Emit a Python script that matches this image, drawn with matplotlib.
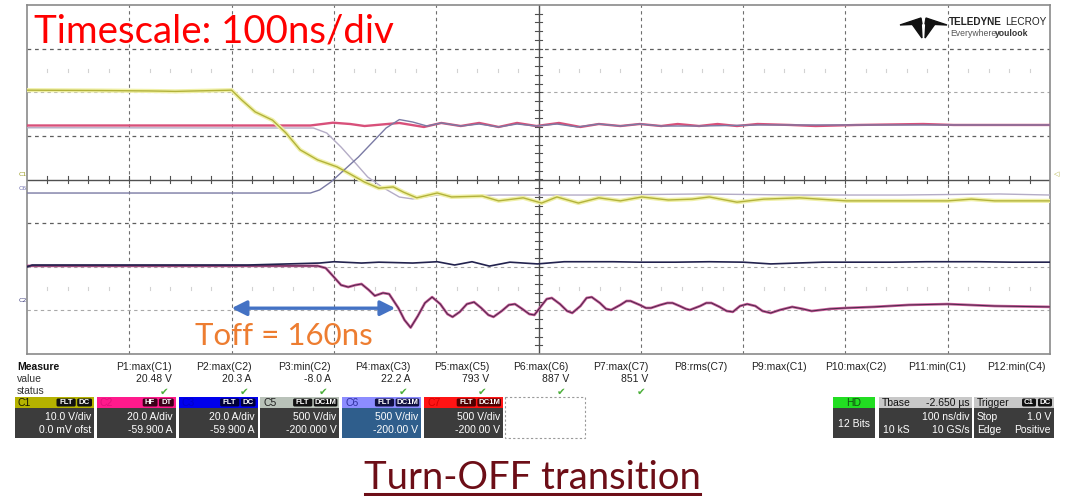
import matplotlib
matplotlib.use("Agg")
import matplotlib.pyplot as plt
from matplotlib.patches import Rectangle, FancyBboxPatch, Polygon
import numpy as np

W, H = 1068, 496

# time axis in ns, 0 = centre of screen, 100 ns/div
c1_t = [-500, -430, -380, -355, -300, -290, -277, -260, -247, -233, -216, -197, -186, -170, -156,
        -142, -132, -119, -99, -85, -55, -39, -15, 3, 18, 39, 59, 80, 101, 127, 150, 167, 194, 220,
        255, 301, 362, 400, 423, 446, 500]
c1_v = [20.48, 20.4, 20.3, 20.2, 20.48, 18.2, 15.5, 13.6, 10.7, 6.8, 4.5, 2.9, 1.5, -0.6, -2.0,
        -1.7, -2.9, -4.2, -3.1, -4.0, -3.8, -4.9, -4.2, -5.4, -4.0, -5.4, -4.2, -4.9, -4.0, -4.7,
        -4.5, -4.0, -5.2, -4.5, -4.2, -4.9, -4.9, -4.9, -4.5, -4.9, -4.9]

c2_t = [-500, -216, -208, -201, -193, -186, -179, -173, -166, -160, -152, -146, -137, -131, -125,
        -118, -111, -104, -96, -89, -84, -77, -70, -63, -56, -49, -44, -36, -29, -23, -16, -9, -4,
        2, 8, 13, 21, 28, 33, 41, 47, 52, 60, 66, 71, 80, 86, 90, 99, 105, 110, 119, 126, 131, 138,
        144, 148, 158, 164, 169, 177, 184, 190, 197, 204, 212, 219, 227, 236, 248, 258, 267, 285,
        301, 328, 362, 400, 446, 500]
c2_a = [20.3, 20.3, 19.3, 15.7, 11.5, 10.6, 11.5, 12.0, 9.3, 6.6, 7.9, 7.4, 1.0, -4.5, -8.0,
        -2.7, 3.3, 6.0, 2.8, -1.8, -3.1, -0.8, 2.8, 3.7, 1.0, -2.2, -3.1, -0.4, 2.4, 2.8, 0.6, -1.8,
        -2.2, 1.5, 5.1, 5.6, 2.8, -0.4, -1.3, 1.9, 5.6, 6.0, 3.3, 0.6, 0.1, 2.4, 4.2, 4.2, 2.4, 1.0,
        1.0, 2.4, 3.3, 3.3, 1.9, 0.6, 0.1, 1.9, 3.3, 3.3, 1.5, -0.4, -0.8, 1.9, 2.8, 1.9, -0.4,
        -1.3, 0.1, 1.5, 0.6, -0.4, 0.6, 1.0, 1.5, 2.4, 2.8, 1.9, 1.5]

c3_t = [-500, -495, -429, -284, -214, -200, -173, -156, -123, -99, -82, -65, -48, -28, -1, 25, 73,
        99, 134, 167, 200, 227, 278, 346, 379, 400, 430, 463, 500]
c3_a = [19.8, 20.7, 20.7, 20.7, 21.6, 22.2, 21.6, 22.0, 21.6, 22.2, 20.7, 22.2, 20.2, 22.0, 21.2,
        22.2, 22.2, 22.0, 22.0, 22.2, 22.0, 21.2, 22.0, 22.0, 22.2, 22.2, 22.2, 22.0, 22.0]

c5_t = [-500, -220, -207, -193, -179, -167, -153, -136, -123, -112, -99, -76, -38, 60, 158, 256,
        353, 451, 500]
c5_v = [793, 790, 733, 572, 389, 229, 114, -1, -23, -1, 22, 11, 22, 22, 34, 22, 22, 34, 22]

c6_t = [-500, -223, -214, -203, -190, -176, -163, -149, -136, -123, -109, -95, -76, -58, -39, -21,
        -2, 18, 38, 59, 80, 99, 120, 158, 217, 305, 402, 500]
c6_v = [45, 45, 80, 171, 309, 458, 618, 790, 887, 859, 813, 848, 813, 836, 802, 836, 813, 836,
        802, 836, 813, 836, 813, 813, 825, 825, 825, 825]

c7_t = [-500, -223, -201, -184, -170, -136, -112, -95, -76, -58, -39, -21, -2, 20, 41, 59, 80, 99,
        120, 136, 157, 175, 194, 214, 246, 271, 311, 376, 406, 451, 500]
c7_v = [819, 819, 851, 836, 813, 848, 802, 848, 813, 848, 802, 848, 813, 848, 802, 836, 813, 836,
        813, 836, 813, 836, 813, 836, 825, 813, 825, 836, 825, 825, 825]

# vertical settings (units/div, offset)
c1_set = (10.0, 0.0)
c2_set = (20.0, -59.9)
c3_set = (20.0, -59.9)
c5_set = (500.0, -200.0)
c6_set = (500.0, -200.0)
c7_set = (500.0, -200.0)

toff_start, toff_end = -300, -140

meas_names = ["P1:max(C1)", "P2:max(C2)", "P3:min(C2)", "P4:max(C3)", "P5:max(C5)", "P6:max(C6)",
              "P7:max(C7)", "P8:rms(C7)", "P9:max(C1)", "P10:max(C2)", "P11:min(C1)", "P12:min(C4)"]
meas_values = ["20.48 V", "20.3 A", "-8.0 A", "22.2 A", "793 V", "887 V", "851 V",
               "", "", "", "", ""]

chan_names = ["C1", "C2", "C3", "C5", "C6", "C7"]
chan_vdiv = ["10.0 V/div", "20.0 A/div", "20.0 A/div", "500 V/div", "500 V/div", "500 V/div"]
chan_ofst = ["0.0 mV ofst", "-59.900 A", "-59.900 A", "-200.000 V", "-200.00 V", "-200.00 V"]
chan_badges = [("FLT", "DC"), ("HF", "DT"), ("FLT", "DC"), ("FLT", "DC1M"), ("FLT", "DC1M"),
               ("FLT", "DC1M")]
chan_top = ["#b5b200", "#ff1a8c", "#0000ee", "#b9c2b9", "#8c8cff", "#ff1414"]
chan_label = ["#1a1a00", "#e0107a", "#0000c8", "#202020", "#3030a0", "#d00000"]
chan_bottom = ["#3c3c3c", "#3c3c3c", "#3c3c3c", "#3c3c3c", "#2f5e8c", "#3c3c3c"]
chan_badge_bg = ["#111111", "#3a0018", "#00003a", "#111111", "#101040", "#500000"]


def to_div(vals, setting):
    scale, ofs = setting
    return (np.array(vals) + ofs) / scale


fig = plt.figure(figsize=(W / 100, H / 100), dpi=100)
fig.patch.set_facecolor("white")

# scope grid
ax = fig.add_axes([27 / W, 1 - 354 / H, 1023 / W, 349 / H])
ax.set_xlim(-500, 500)
ax.set_ylim(-4, 4)
ax.set_xticks([])
ax.set_yticks([])
for s in ax.spines.values():
    s.set_color("#8a8a8a")
    s.set_linewidth(1.2)

for t in range(-400, 500, 100):
    if t != 0:
        ax.axvline(t, color="#6e6e6e", lw=0.8, ls=(0, (3, 3)), zorder=1)
for d in [3, 1, -1]:
    ax.axhline(d, color="#5e5e5e", lw=0.9, ls=(0, (3, 3)), zorder=1)
for d in [2, -2, -3]:
    ax.axhline(d, color="#a8a8a8", lw=0.8, ls=(0, (3, 3)), zorder=1)
ax.axhline(0, color="#505050", lw=1.0, zorder=1)
ax.axvline(0, color="#505050", lw=1.0, zorder=1)
for t in np.arange(-480, 500, 20):
    ax.plot([t, t], [-0.07, 0.07], color="#505050", lw=0.8, zorder=1)
    if t % 100 != 0:
        for d in [2.5, -2.5]:
            ax.plot([t, t], [d - 0.04, d + 0.04], color="#d2d2d2", lw=0.8, zorder=1)
for d in np.arange(-3.8, 4.0, 0.2):
    ax.plot([-3, 3], [d, d], color="#505050", lw=0.8, zorder=1)

# traces
ax.plot(c7_t, to_div(c7_v, c7_set), color="#d8507a", lw=1.7, zorder=3)
ax.plot(c5_t, to_div(c5_v, c5_set), color="#b4acc6", lw=1.0, zorder=3)
ax.plot(c6_t, to_div(c6_v, c6_set), color="#7a7aa4", lw=1.0, zorder=4)
ax.plot(c1_t, to_div(c1_v, c1_set), color="#f0f0a8", lw=3.0, zorder=3)
ax.plot(c1_t, to_div(c1_v, c1_set), color="#b2b23a", lw=1.0, zorder=4)
ax.plot(c2_t, to_div(c2_a, c2_set), color="#c85a98", lw=1.9, zorder=3)
ax.plot(c2_t, to_div(c2_a, c2_set), color="#4a2848", lw=0.7, zorder=4)
ax.plot(c3_t, to_div(c3_a, c3_set), color="#22224e", lw=1.2, zorder=5)

# turn-off time arrow
ax.annotate("", xy=(toff_end, -2.95), xytext=(toff_start, -2.95),
            arrowprops=dict(arrowstyle="<|-|>,head_length=0.9,head_width=0.45",
                            color="#4472c4", lw=2.4, shrinkA=0, shrinkB=0), zorder=6)

# overlay in pixel coordinates for the instrument panel and captions
ov = fig.add_axes([0, 0, 1, 1])
ov.set_xlim(0, W)
ov.set_ylim(H, 0)
ov.axis("off")
ov.patch.set_alpha(0)

ui = dict(family=["Liberation Sans", "DejaVu Sans"], fontsize=7.5)

ov.text(34, 43, "Timescale: 100ns/div", color="#ff0000", fontsize=27.7,
        family=["Lato", "DejaVu Sans"], va="baseline", ha="left")
ov.text(195, 345, "Toff = 160ns", color="#ed7d31", fontsize=22.5,
        family=["Lato", "DejaVu Sans"], va="baseline", ha="left")
ov.text(532, 489, "Turn-OFF transition", color="#6d0e17", fontsize=27.5,
        family=["Lato", "DejaVu Sans"], va="baseline", ha="center")
ov.plot([365, 700], [494, 494], color="#6d0e17", lw=2.2)

# channel markers on the left edge
ov.text(19, 174, "C1", color="#9a9a20", fontsize=4.5, ha="left", va="center", family="DejaVu Sans")
ov.text(19, 188, "C6", color="#7070b0", fontsize=4.5, ha="left", va="center", family="DejaVu Sans")
ov.text(19, 301, "C2", color="#404080", fontsize=4.5, ha="left", va="center", family="DejaVu Sans")
ov.text(1054, 174, "\u25c1", color="#b0b040", fontsize=5, ha="left", va="center", family="DejaVu Sans")

# logo
logo_parts = [
    [(900, 25), (921, 18), (922, 24)],
    [(947, 25), (926, 18), (925, 24)],
    [(912, 24), (921, 21), (922, 38)],
    [(935, 24), (926, 21), (925, 38)],
]
for p in logo_parts:
    ov.add_patch(Polygon(p, closed=True, color="#111111"))
ov.text(949, 22, "TELEDYNE", fontsize=7.2, fontweight="bold", color="#222222",
        family="Liberation Sans", va="center", ha="left")
ov.text(1046, 22, "LECROY", fontsize=7.2, color="#222222", family="Liberation Sans",
        va="center", ha="right")
ov.text(950, 33, "Everywhere", fontsize=6.2, color="#555555", family="Liberation Sans",
        va="center", ha="left")
ov.text(995, 33, "youlook", fontsize=6.2, color="#333333", fontweight="bold",
        family="Liberation Sans", va="center", ha="left")

# measurement table
ov.text(17, 367, "Measure", fontweight="bold", va="center", color="#111111", **ui)
ov.text(17, 379, "value", va="center", color="#333333", **ui)
ov.text(17, 391, "status", va="center", color="#333333", **ui)
for i, (name, val) in enumerate(zip(meas_names, meas_values)):
    xr = 172 + 79.4 * i
    ov.text(xr, 367, name, ha="right", va="center", color="#222222", **ui)
    if val:
        ov.text(xr, 379, val, ha="right", va="center", color="#222222", **ui)
        ov.text(xr - 3, 392, "\u2714", ha="right", va="center", color="#4caf3a",
                fontsize=7.5, family="DejaVu Sans")

# channel boxes
for i, name in enumerate(chan_names):
    x0 = 15 + 81.8 * i
    w = 79
    ov.add_patch(Rectangle((x0, 397), w, 11, color=chan_top[i], lw=0))
    ov.add_patch(Rectangle((x0, 408), w, 30, color=chan_bottom[i], lw=0))
    ov.text(x0 + 3, 402.5, name, ha="left", va="center", color=chan_label[i], **ui)
    b1, b2 = chan_badges[i]
    w2 = 6 + 4.4 * len(b2)
    w1 = 6 + 4.4 * len(b1)
    bx2 = x0 + w - 2 - w2
    bx1 = bx2 - 1.5 - w1
    for bx, bw, bt in [(bx1, w1, b1), (bx2, w2, b2)]:
        ov.add_patch(FancyBboxPatch((bx, 398.5), bw, 8, boxstyle="round,pad=0,rounding_size=1.5",
                                    color=chan_badge_bg[i], lw=0))
        ov.text(bx + bw / 2, 402.7, bt, ha="center", va="center", color="white",
                family="Liberation Sans", fontsize=5.6, fontweight="bold")
    ov.text(x0 + w - 3, 417, chan_vdiv[i], ha="right", va="center", color="white", **ui)
    ov.text(x0 + w - 3, 430, chan_ofst[i], ha="right", va="center", color="white", **ui)
ov.add_patch(Rectangle((505, 397), 80, 41, fill=False, ec="#9a9a9a", lw=0.8, ls=(0, (2, 2))))

# acquisition / timebase / trigger boxes
ov.add_patch(Rectangle((833, 397), 42, 11, color="#22dd22", lw=0))
ov.add_patch(Rectangle((833, 408), 42, 30, color="#3c3c3c", lw=0))
ov.text(854, 402.5, "HD", ha="center", va="center", color="#105010", **ui)
ov.text(854, 424, "12 Bits", ha="center", va="center", color="white", **ui)

ov.add_patch(Rectangle((879, 397), 93, 11, color="#c8c8c8", lw=0))
ov.add_patch(Rectangle((879, 408), 93, 30, color="#3c3c3c", lw=0))
ov.text(882, 402.5, "Tbase", ha="left", va="center", color="#111111", **ui)
ov.text(970, 402.5, "-2.650 \u00b5s", ha="right", va="center", color="#111111", **ui)
ov.text(970, 417, "100 ns/div", ha="right", va="center", color="white", **ui)
ov.text(883, 430, "10 kS", ha="left", va="center", color="white", **ui)
ov.text(970, 430, "10 GS/s", ha="right", va="center", color="white", **ui)

ov.add_patch(Rectangle((974, 397), 80, 11, color="#c8c8c8", lw=0))
ov.add_patch(Rectangle((974, 408), 80, 30, color="#3c3c3c", lw=0))
ov.text(977, 402.5, "Trigger", ha="left", va="center", color="#111111", **ui)
for bx, bw, bt in [(1022, 14, "C1"), (1038, 14, "DC")]:
    ov.add_patch(FancyBboxPatch((bx, 398.5), bw, 8, boxstyle="round,pad=0,rounding_size=1.5",
                                color="#111111", lw=0))
    ov.text(bx + bw / 2, 402.7, bt, ha="center", va="center", color="white",
            family="Liberation Sans", fontsize=5.6, fontweight="bold")
ov.text(977, 417, "Stop", ha="left", va="center", color="white", **ui)
ov.text(1051, 417, "1.0 V", ha="right", va="center", color="white", **ui)
ov.text(977, 430, "Edge", ha="left", va="center", color="white", **ui)
ov.text(1051, 430, "Positive", ha="right", va="center", color="white", **ui)

fig.savefig("out.png", dpi=100)
